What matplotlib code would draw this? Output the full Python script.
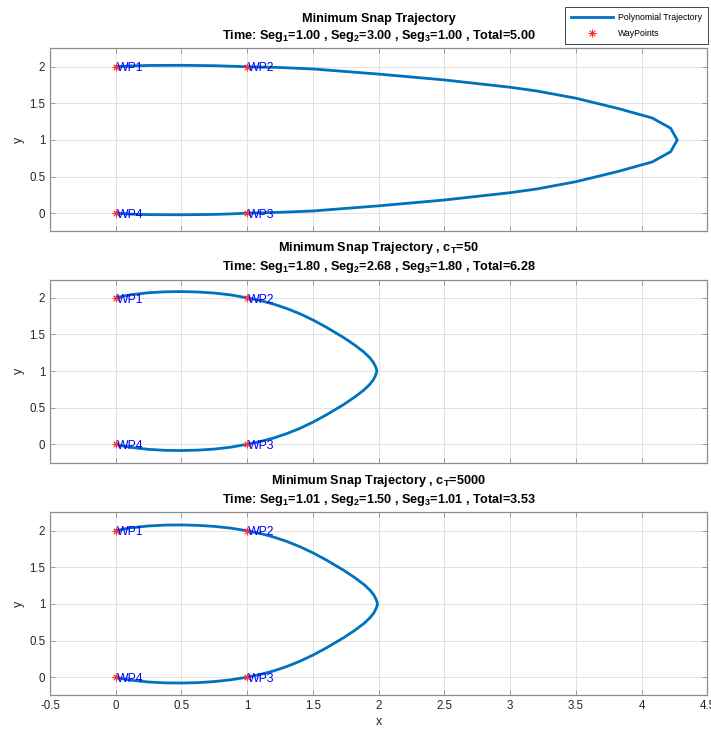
import matplotlib
matplotlib.use("Agg")
import matplotlib.pyplot as plt
from matplotlib.ticker import FormatStrFormatter

plt.rcParams["font.family"] = ["Liberation Sans", "DejaVu Sans"]
plt.rcParams["mathtext.fontset"] = "custom"
plt.rcParams["mathtext.rm"] = "Liberation Sans"
plt.rcParams["mathtext.bf"] = "Liberation Sans:bold"
plt.rcParams["mathtext.it"] = "Liberation Sans:italic"

# waypoints
wp_x = [0, 1, 1, 0]
wp_y = [2, 2, 0, 0]
wp_names = ["WP1", "WP2", "WP3", "WP4"]

# trajectory 1 (equal segment times)
traj1_x = [0, 0.125, 0.25, 0.5, 0.75, 0.875, 1,
           1.25, 1.5, 2.0, 2.5, 2.75, 3.0, 3.2, 3.5, 3.82, 4.08, 4.22, 4.27,
           4.22, 4.08, 3.82, 3.5, 3.2, 3.0, 2.75, 2.5, 2.0, 1.5, 1.25, 1,
           0.875, 0.75, 0.5, 0.25, 0.125, 0]
traj1_y = [2, 2.012, 2.018, 2.02, 2.015, 2.008, 2,
           1.99, 1.97, 1.90, 1.82, 1.77, 1.72, 1.67, 1.57, 1.43, 1.30, 1.16, 1.0,
           0.84, 0.70, 0.57, 0.43, 0.33, 0.28, 0.23, 0.18, 0.10, 0.03, 0.012, 0,
           -0.01, -0.017, -0.022, -0.02, -0.014, 0]

# trajectory 2 (c_T = 50)
traj2_x = [0, 0.06, 0.125, 0.25, 0.375, 0.5, 0.625, 0.75, 0.875,
           1.0, 1.1, 1.2, 1.3, 1.4, 1.5, 1.6, 1.731, 1.819, 1.886, 1.930, 1.958, 1.974, 1.983, 1.985,
           1.983, 1.974, 1.958, 1.930, 1.886, 1.819, 1.731, 1.6, 1.5, 1.4, 1.3, 1.2, 1.1, 1.0,
           0.875, 0.75, 0.625, 0.5, 0.375, 0.25, 0.125, 0.06, 0]
traj2_y = [2, 2.025, 2.045, 2.07, 2.083, 2.086, 2.08, 2.066, 2.04,
           2.0, 1.963, 1.915, 1.855, 1.783, 1.698, 1.600, 1.460, 1.353, 1.261, 1.185, 1.121, 1.067, 1.022, 1.0,
           0.978, 0.933, 0.879, 0.815, 0.739, 0.647, 0.540, 0.400, 0.302, 0.217, 0.145, 0.085, 0.037, 0,
           -0.04, -0.066, -0.08, -0.086, -0.083, -0.07, -0.045, -0.025, 0]

# trajectory 3 (c_T = 5000)
traj3_x = [0, 0.06, 0.125, 0.25, 0.375, 0.5, 0.625, 0.75, 0.875,
           1.0, 1.1, 1.2, 1.3, 1.4, 1.5, 1.602, 1.734, 1.823, 1.891, 1.935, 1.963, 1.979, 1.988, 1.99,
           1.988, 1.979, 1.963, 1.935, 1.891, 1.823, 1.734, 1.602, 1.5, 1.4, 1.3, 1.2, 1.1, 1.0,
           0.875, 0.75, 0.625, 0.5, 0.375, 0.25, 0.125, 0.06, 0]
traj3_y = [2, 2.024, 2.043, 2.066, 2.078, 2.08, 2.074, 2.06, 2.036,
           2.0, 1.963, 1.915, 1.855, 1.783, 1.698, 1.600, 1.460, 1.353, 1.261, 1.185, 1.121, 1.067, 1.022, 1.0,
           0.978, 0.933, 0.879, 0.815, 0.739, 0.647, 0.540, 0.400, 0.302, 0.217, 0.145, 0.085, 0.037, 0,
           -0.036, -0.06, -0.075, -0.08, -0.078, -0.066, -0.043, -0.024, 0]

titles = [
    ["Minimum Snap Trajectory",
     r"Time: Seg$_\mathbf{1}$=1.00 , Seg$_\mathbf{2}$=3.00 , Seg$_\mathbf{3}$=1.00 , Total=5.00"],
    [r"Minimum Snap Trajectory , c$_\mathbf{T}$=50",
     r"Time: Seg$_\mathbf{1}$=1.80 , Seg$_\mathbf{2}$=2.68 , Seg$_\mathbf{3}$=1.80 , Total=6.28"],
    [r"Minimum Snap Trajectory , c$_\mathbf{T}$=5000",
     r"Time: Seg$_\mathbf{1}$=1.01 , Seg$_\mathbf{2}$=1.50 , Seg$_\mathbf{3}$=1.01 , Total=3.53"],
]

x_ticks = [-0.5, 0, 0.5, 1, 1.5, 2, 2.5, 3, 3.5, 4, 4.5]
y_ticks = [0, 0.5, 1, 1.5, 2]

line_color = "#0072BD"
axis_color = "#262626"

fig = plt.figure(figsize=(7.11, 7.29), dpi=100)
left, width, height = 50 / 711, 657.5 / 711, 0.251
bottoms = [0.6825, 0.3655, 0.046]

trajs = [(traj1_x, traj1_y), (traj2_x, traj2_y), (traj3_x, traj3_y)]
for i, (tx, ty) in enumerate(trajs):
    ax = fig.add_axes([left, bottoms[i], width, height])
    ln, = ax.plot(tx, ty, color=line_color, lw=2.0, label="Polynomial Trajectory",
                  zorder=3, solid_joinstyle="round")
    wp, = ax.plot(wp_x, wp_y, ls="none", marker=(8, 2, 0), ms=5.5, mew=0.6,
                  color="#ff3030", label="WayPoints", zorder=4)
    for x, y, name in zip(wp_x, wp_y, wp_names):
        ax.annotate(name, (x, y), xytext=(0.5, -1.2), textcoords="offset points",
                    color="blue", fontsize=8.8, ha="left", va="center", zorder=5)

    ax.set_xlim(-0.5, 4.5)
    ax.set_ylim(-0.25, 2.25)
    ax.set_xticks(x_ticks)
    ax.set_yticks(y_ticks)
    ax.xaxis.set_major_formatter(FormatStrFormatter("%g"))
    ax.yaxis.set_major_formatter(FormatStrFormatter("%g"))
    ax.grid(True, color="#dedede", lw=0.6)
    ax.set_axisbelow(True)
    ax.tick_params(direction="in", length=3.6, width=0.6, colors="#8c8c8c",
                   labelcolor=axis_color, labelsize=8.3, top=True, right=True)
    for s in ax.spines.values():
        s.set_color("#8c8c8c")
        s.set_linewidth(0.9)
    if i < 2:
        ax.tick_params(labelbottom=False)
    else:
        ax.set_xlabel("x", fontsize=9, color=axis_color, labelpad=3)
    ax.set_ylabel("y", fontsize=9, color=axis_color, labelpad=3)
    ax.set_title(titles[i][0] + "\n" + titles[i][1], fontsize=9.1, fontweight="bold",
                 color="black", pad=7, linespacing=1.25)

    if i == 0:
        leg = ax.legend(handles=[ln, wp], loc="upper right",
                        bbox_to_anchor=(708 / 711, 1 - 7 / 729),
                        bbox_transform=fig.transFigure, borderaxespad=0,
                        fontsize=6.3, handlelength=4.8, handletextpad=0.55,
                        borderpad=0.7, labelspacing=0.8, fancybox=False,
                        framealpha=1, edgecolor="#262626")
        leg.get_frame().set_linewidth(0.6)

fig.savefig("out.png", dpi=100)
